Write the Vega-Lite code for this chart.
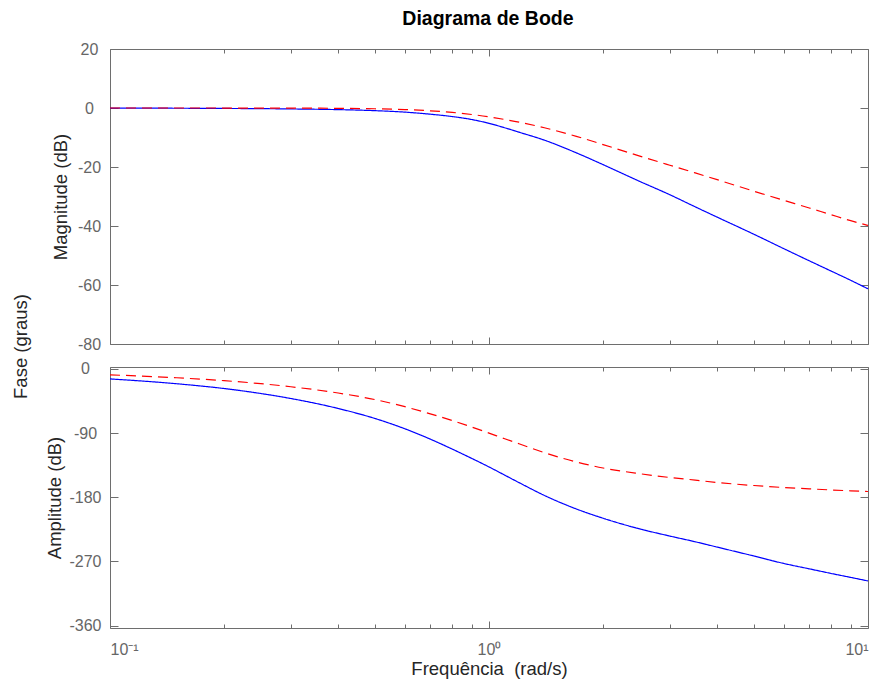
{
  "$schema": "https://vega.github.io/schema/vega-lite/v6.json",
  "padding": {"left": 11, "top": 8, "right": 10, "bottom": 5},
  "background": "white",
  "title": {"text": "Diagrama de Bode", "font": "Liberation Sans", "fontSize": 19.5, "fontWeight": "bold", "color": "#000000", "anchor": "middle", "offset": 11.3, "dx": 47},
  "datasets": {
    "bode": [
      {"w":0.1,"s":"s1","mag":-0.05,"ph":-14},{"w":0.15,"s":"s1","mag":-0.08,"ph":-20.8},{"w":0.2,"s":"s1","mag":-0.15,"ph":-27.5},{"w":0.25,"s":"s1","mag":-0.22,"ph":-34.5},{"w":0.3,"s":"s1","mag":-0.32,"ph":-41.5},{"w":0.4,"s":"s1","mag":-0.55,"ph":-55.5},{"w":0.5,"s":"s1","mag":-0.9,"ph":-69.5},{"w":0.6,"s":"s1","mag":-1.4,"ph":-84},{"w":0.7,"s":"s1","mag":-2.1,"ph":-98.5},{"w":0.8,"s":"s1","mag":-2.9,"ph":-112.5},{"w":0.9,"s":"s1","mag":-3.9,"ph":-125.5},{"w":1.0,"s":"s1","mag":-5.2,"ph":-137.5},{"w":1.1,"s":"s1","mag":-6.7,"ph":-149},{"w":1.2,"s":"s1","mag":-8.2,"ph":-159.5},{"w":1.4,"s":"s1","mag":-10.9,"ph":-177.5},{"w":1.7,"s":"s1","mag":-15.2,"ph":-196.5},{"w":2.0,"s":"s1","mag":-19.2,"ph":-209.5},{"w":2.5,"s":"s1","mag":-24.9,"ph":-224.5},{"w":3.0,"s":"s1","mag":-29.4,"ph":-234.5},{"w":3.5,"s":"s1","mag":-33.5,"ph":-242.5},{"w":4.0,"s":"s1","mag":-37.0,"ph":-250},{"w":5.0,"s":"s1","mag":-42.8,"ph":-262.5},{"w":6.0,"s":"s1","mag":-47.7,"ph":-273},{"w":7.0,"s":"s1","mag":-51.8,"ph":-280.5},{"w":8.0,"s":"s1","mag":-55.3,"ph":-287},{"w":9.0,"s":"s1","mag":-58.4,"ph":-292.5},{"w":10,"s":"s1","mag":-61.3,"ph":-297.5},
      {"w":0.1,"s":"s2","mag":0,"ph":-8.3},{"w":0.15,"s":"s2","mag":0,"ph":-12.4},{"w":0.2,"s":"s2","mag":-0.01,"ph":-16.5},{"w":0.25,"s":"s2","mag":-0.02,"ph":-20.7},{"w":0.3,"s":"s2","mag":-0.04,"ph":-25},{"w":0.4,"s":"s2","mag":-0.11,"ph":-33.8},{"w":0.5,"s":"s2","mag":-0.26,"ph":-43},{"w":0.6,"s":"s2","mag":-0.54,"ph":-53},{"w":0.7,"s":"s2","mag":-0.95,"ph":-63},{"w":0.8,"s":"s2","mag":-1.5,"ph":-72.5},{"w":0.9,"s":"s2","mag":-2.2,"ph":-81.5},{"w":1.0,"s":"s2","mag":-3.0,"ph":-90},{"w":1.1,"s":"s2","mag":-3.9,"ph":-98},{"w":1.2,"s":"s2","mag":-4.8,"ph":-105},{"w":1.4,"s":"s2","mag":-6.7,"ph":-117.5},{"w":1.7,"s":"s2","mag":-9.6,"ph":-130.5},{"w":2.0,"s":"s2","mag":-12.4,"ph":-139},{"w":2.5,"s":"s2","mag":-16.3,"ph":-147},{"w":3.0,"s":"s2","mag":-19.4,"ph":-152.3},{"w":3.5,"s":"s2","mag":-22.0,"ph":-156},{"w":4.0,"s":"s2","mag":-24.3,"ph":-159.3},{"w":5.0,"s":"s2","mag":-28.2,"ph":-163.6},{"w":6.0,"s":"s2","mag":-31.3,"ph":-166.4},{"w":7.0,"s":"s2","mag":-33.9,"ph":-168.3},{"w":8.0,"s":"s2","mag":-36.2,"ph":-169.8},{"w":9.0,"s":"s2","mag":-38.2,"ph":-171},{"w":10,"s":"s2","mag":-39.8,"ph":-172}
    ],
    "fase": [{"v": 0}]
  },
  "hconcat": [
    {
      "data": {"name": "fase"},
      "width": 1,
      "height": 594,
      "view": {"stroke": null},
      "mark": {"type": "point", "opacity": 0},
      "encoding": {
        "y": {"field": "v", "type": "quantitative", "axis": {"title": "Fase (graus)", "labels": false, "ticks": false, "domain": false, "grid": false, "titlePadding": 0}}
      }
    },
    {
      "vconcat": [
        {
          "data": {"name": "bode"},
          "width": 758,
          "height": 295,
          "layer": [
            {
              "mark": {"type": "line", "strokeWidth": 1.2, "interpolate": "monotone"},
              "encoding": {
                "x": {"field": "w", "type": "quantitative", "scale": {"type": "log", "domain": [0.1, 10], "nice": false},
                  "axis": {"orient": "bottom", "title": null, "values": [0.1,0.2,0.3,0.4,0.5,0.6,0.7,0.8,0.9,1,2,3,4,5,6,7,8,9,10], "labels": false,
                    "tickSize": {"condition": {"test": "abs(log(datum.value)/LN10 - round(log(datum.value)/LN10)) < 0.000001", "value": -7}, "value": -4}}},
                "y": {"field": "mag", "type": "quantitative", "scale": {"domain": [-80, 20], "nice": false},
                  "axis": {"orient": "left", "title": "Magnitude (dB)", "values": [20, 0, -20, -40, -60, -80], "labelExpr": "'' + datum.value", "tickSize": -8, "labelPadding": 29, "labelAlign": "center", "titlePadding": 6.5}},
                "color": {"field": "s", "type": "nominal", "scale": {"domain": ["s1", "s2"], "range": ["#0000ff", "#ff0000"]}, "legend": null},
                "strokeDash": {"field": "s", "type": "nominal", "scale": {"domain": ["s1", "s2"], "range": [[1, 0], [10, 6]]}, "legend": null}
              }
            },
            {
              "mark": {"type": "line", "opacity": 0},
              "encoding": {
                "x": {"field": "w", "type": "quantitative", "scale": {"type": "log", "domain": [0.1, 10], "nice": false},
                  "axis": {"orient": "top", "title": null, "values": [0.1,0.2,0.3,0.4,0.5,0.6,0.7,0.8,0.9,1,2,3,4,5,6,7,8,9,10], "labels": false,
                    "tickSize": {"condition": {"test": "abs(log(datum.value)/LN10 - round(log(datum.value)/LN10)) < 0.000001", "value": -7}, "value": -4}}},
                "y": {"field": "mag", "type": "quantitative", "scale": {"domain": [-80, 20], "nice": false},
                  "axis": {"orient": "right", "title": null, "values": [20, 0, -20, -40, -60, -80], "labels": false, "tickSize": -8}},
                "detail": {"field": "s", "type": "nominal"}
              }
            }
          ],
          "resolve": {"axis": {"x": "independent", "y": "independent"}}
        },
        {
          "data": {"name": "bode"},
          "width": 758,
          "height": 261,
          "layer": [
            {
              "mark": {"type": "line", "strokeWidth": 1.2, "interpolate": "monotone"},
              "encoding": {
                "x": {"field": "w", "type": "quantitative", "scale": {"type": "log", "domain": [0.1, 10], "nice": false},
                  "axis": {"orient": "bottom", "title": "Frequência \u00a0(rad/s)", "values": [0.1,0.2,0.3,0.4,0.5,0.6,0.7,0.8,0.9,1,2,3,4,5,6,7,8,9,10],
                    "labelExpr": "abs(datum.value-0.1)<0.000001 ? '10⁻¹' : abs(datum.value-1)<0.000001 ? '10⁰' : abs(datum.value-10)<0.000001 ? '10¹' : ''",
                    "labelPadding": 20, "titlePadding": 2.5,
                    "tickSize": {"condition": {"test": "abs(log(datum.value)/LN10 - round(log(datum.value)/LN10)) < 0.000001", "value": -7}, "value": -4}}},
                "y": {"field": "ph", "type": "quantitative", "scale": {"domain": [-363.5, 2.7], "nice": false},
                  "axis": {"orient": "left", "title": "Amplitude (dB)", "values": [0, -90, -180, -270, -360], "labelExpr": "'' + datum.value", "tickSize": -8, "labelPadding": 33, "labelAlign": "center", "titlePadding": 4.5}},
                "color": {"field": "s", "type": "nominal", "scale": {"domain": ["s1", "s2"], "range": ["#0000ff", "#ff0000"]}, "legend": null},
                "strokeDash": {"field": "s", "type": "nominal", "scale": {"domain": ["s1", "s2"], "range": [[1, 0], [10, 6]]}, "legend": null}
              }
            },
            {
              "mark": {"type": "line", "opacity": 0},
              "encoding": {
                "x": {"field": "w", "type": "quantitative", "scale": {"type": "log", "domain": [0.1, 10], "nice": false},
                  "axis": {"orient": "top", "title": null, "values": [0.1,0.2,0.3,0.4,0.5,0.6,0.7,0.8,0.9,1,2,3,4,5,6,7,8,9,10], "labels": false,
                    "tickSize": {"condition": {"test": "abs(log(datum.value)/LN10 - round(log(datum.value)/LN10)) < 0.000001", "value": -7}, "value": -4}}},
                "y": {"field": "ph", "type": "quantitative", "scale": {"domain": [-363.5, 2.7], "nice": false},
                  "axis": {"orient": "right", "title": null, "values": [0, -90, -180, -270, -360], "labels": false, "tickSize": -8}},
                "detail": {"field": "s", "type": "nominal"}
              }
            }
          ],
          "resolve": {"axis": {"x": "independent", "y": "independent"}}
        }
      ],
      "spacing": 7
    }
  ],
  "spacing": 10,
  "config": {
    "font": "Liberation Sans",
    "view": {"stroke": "#6e6e6e", "strokeWidth": 1},
    "axis": {"domain": false, "grid": false, "labelFont": "Liberation Sans", "labelFontSize": 16, "labelColor": "#666666", "tickColor": "#6e6e6e", "tickWidth": 1, "titleFont": "Liberation Sans", "titleFontSize": 18.5, "titleFontWeight": "normal", "titleColor": "#262626"}
  }
}
